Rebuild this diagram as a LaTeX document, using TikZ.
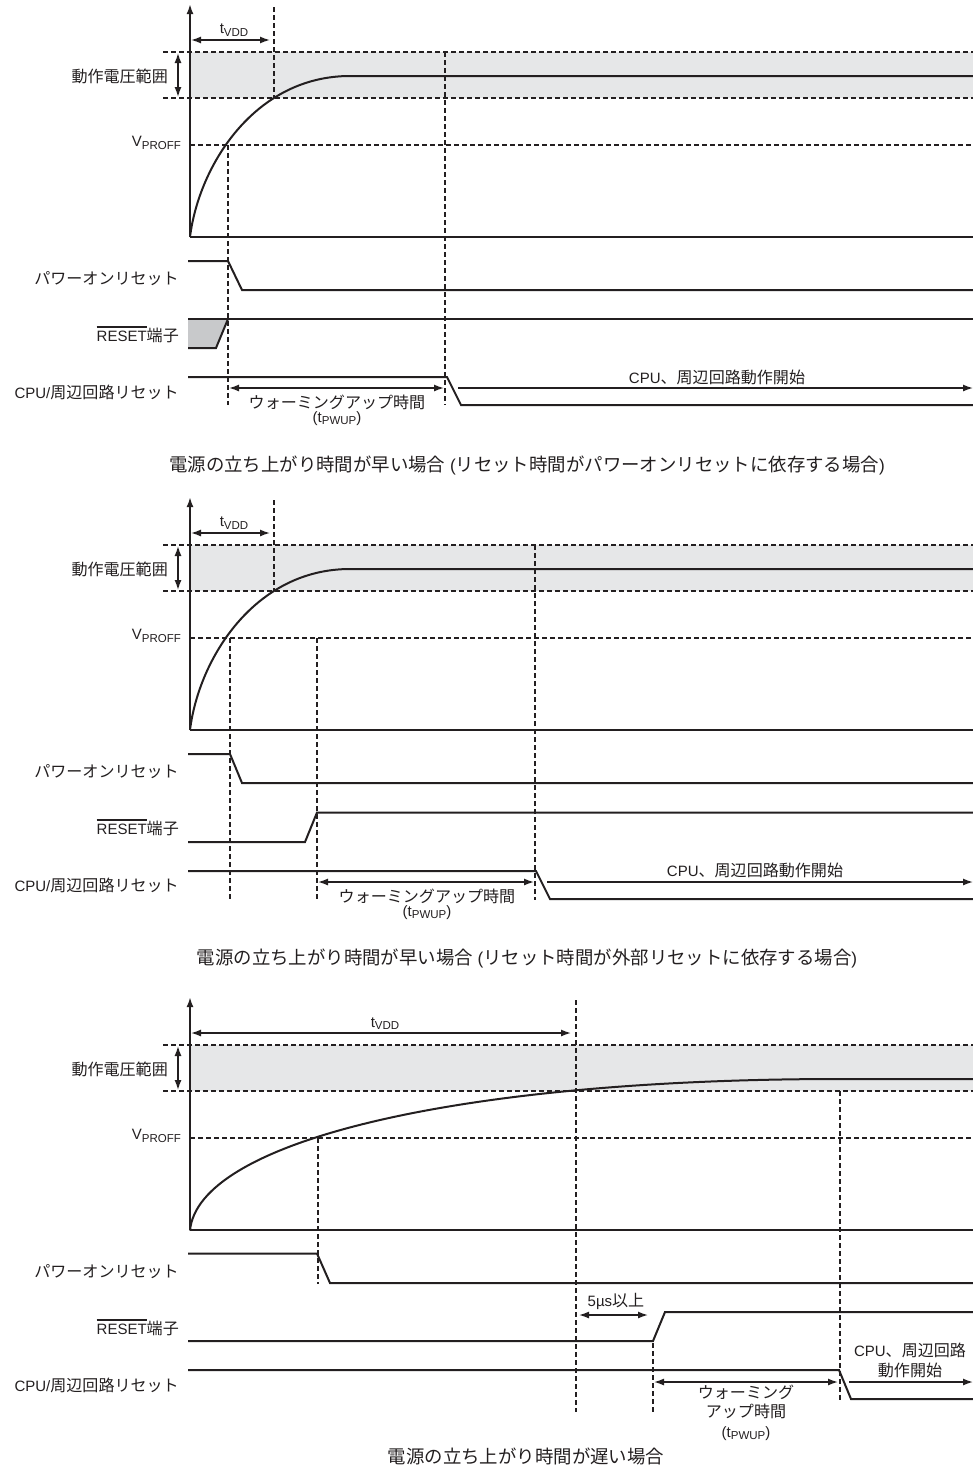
\documentclass[tikz,border=0pt]{standalone}
\usepackage{fontspec}
\setmainfont{Liberation Sans}
\newfontfamily\jp[Scale=1.07]{Noto Sans CJK JP}
\usetikzlibrary{arrows.meta}

\definecolor{ink}{HTML}{231F20}
\definecolor{bandgray}{HTML}{E6E7E8}
\definecolor{pingray}{HTML}{C8C9CB}
\newcommand{\pinbar}[1]{\vbox{\hrule height 1.3pt\kern 3.5pt\hbox{#1}}}
\newcommand{\subtxt}[1]{\raisebox{-2.5pt}{\fontsize{11.5}{11.5}\selectfont #1}}

\begin{document}
\begin{tikzpicture}[x=1pt,y=-1pt,
        >={Latex[length=10pt,width=7pt]},
        sig/.style={draw=ink,line width=2pt},
        guide/.style={draw=ink,line width=1.4pt,dash pattern=on 5pt off 3pt},
        dim/.style={draw=ink,line width=1.4pt},
        lab/.style={text=ink,inner sep=0pt,anchor=base east,font=\fontsize{15}{16}\selectfont},
        txt/.style={text=ink,inner sep=0pt,anchor=base,align=center,font=\fontsize{15}{19.5}\selectfont},
        captext/.style={text=ink,inner sep=0pt,anchor=base,font=\fontsize{17.2}{18}\selectfont}]
    \useasboundingbox (0,0) rectangle (973,1470);

    % fast rise, reset time set by power-on reset
    \begin{scope}
        \fill[bandgray] (190,52) rectangle (973,98);
        \draw[guide] (163,52) -- (973,52);
        \draw[guide] (163,98) -- (973,98);
        \draw[guide] (190,145) -- (973,145);
        \draw[guide] (274,7) -- (274,98);
        \draw[guide] (228,145) -- (228,405);
        \draw[guide] (445,52) -- (445,405);
        \draw[sig,->] (190,237) -- (190,4);
        \draw[sig] (190,237) -- (973,237);
        \draw[sig] (190,237) .. controls (199,165) and (255,76) .. (350,76) -- (973,76);

        \draw[sig] (188,261) -- (228,261) -- (242,290) -- (973,290);
        \fill[pingray] (188,319) -- (228,319) -- (216,348) -- (188,348) -- cycle;
        \draw[sig] (188,319) -- (973,319);
        \draw[sig] (188,348) -- (216,348) -- (228,319);
        \draw[sig] (188,377) -- (447,377) -- (461,405) -- (973,405);

        \draw[dim,<->] (191,40) -- (270,40);
        \draw[dim,<->] (178,53) -- (178,97);
        \draw[dim,<->] (229,388) -- (444,388);
        \draw[dim,->] (458,388) -- (973,388);

        \node[txt] (vdd1) at (234,33.5) {t\subtxt{VDD}};
        \node[lab] (range1) at (168,82) {\jp 動作電圧範囲};
        \node[lab] (vproff1) at (181,146.7) {V\subtxt{PROFF}};
        \node[lab] (por1) at (179,284) {\jp パワーオンリセット};
        \node[lab] (pin1) at (179,341.7) {\pinbar{RESET}{\jp 端子}};
        \node[lab] (cpu1) at (179,398) {CPU/{\jp 周辺回路リセット}};
        \node[txt] (warm1) at (337,422) {{\jp ウォーミングアップ時間}\\[-6pt](t\subtxt{PWUP})};
        \node[txt] (run1) at (717,383.3) {CPU{\jp 、周辺回路動作開始}};
        \node[captext] (cap1) at (527,471) {{\jp 電源の立ち上がり時間が早い場合} ({\jp リセット時間がパワーオンリセットに依存する場合})};
    \end{scope}

    % fast rise, reset time set by external reset
    \begin{scope}[shift={(0,493)}]
        \fill[bandgray] (190,52) rectangle (973,98);
        \draw[guide] (163,52) -- (973,52);
        \draw[guide] (163,98) -- (973,98);
        \draw[guide] (190,145) -- (973,145);
        \draw[guide] (274,7) -- (274,98);
        \draw[guide] (230,145) -- (230,407);
        \draw[guide] (317,145) -- (317,407);
        \draw[guide] (535,52) -- (535,407);
        \draw[sig,->] (190,237) -- (190,4);
        \draw[sig] (190,237) -- (973,237);
        \draw[sig] (190,237) .. controls (199,165) and (255,76) .. (350,76) -- (973,76);

        \draw[sig] (188,261) -- (230,261) -- (242,290) -- (973,290);
        \draw[sig] (188,349) -- (305,349) -- (317,319.5) -- (973,319.5);
        \draw[sig] (188,378) -- (536,378) -- (550,406) -- (973,406);

        \draw[dim,<->] (191,40) -- (270,40);
        \draw[dim,<->] (178,53) -- (178,97);
        \draw[dim,<->] (318,389) -- (534,389);
        \draw[dim,->] (547,389) -- (973,389);

        \node[txt] (vdd2) at (234,33.5) {t\subtxt{VDD}};
        \node[lab] (range2) at (168,82) {\jp 動作電圧範囲};
        \node[lab] (vproff2) at (181,146.7) {V\subtxt{PROFF}};
        \node[lab] (por2) at (179,284) {\jp パワーオンリセット};
        \node[lab] (pin2) at (179,341.7) {\pinbar{RESET}{\jp 端子}};
        \node[lab] (cpu2) at (179,398) {CPU/{\jp 周辺回路リセット}};
        \node[txt] (warm2) at (427,423) {{\jp ウォーミングアップ時間}\\[-6pt](t\subtxt{PWUP})};
        \node[txt] (run2) at (755,383.7) {CPU{\jp 、周辺回路動作開始}};
        \node[captext] (cap2) at (527,471) {{\jp 電源の立ち上がり時間が早い場合} ({\jp リセット時間が外部リセットに依存する場合})};
    \end{scope}

    % slow rise
    \begin{scope}[shift={(0,993)}]
        \fill[bandgray] (190,52) rectangle (973,98);
        \draw[guide] (163,52) -- (973,52);
        \draw[guide] (163,98) -- (973,98);
        \draw[guide] (190,145) -- (973,145);
        \draw[guide] (576,7) -- (576,419);
        \draw[guide] (318,145) -- (318,291);
        \draw[guide] (840,98) -- (840,407);
        \draw[guide] (653,350) -- (653,419);
        \draw[sig,->] (190,237) -- (190,4);
        \draw[sig] (190,237) -- (973,237);
        \draw[sig] (190,237.5) .. controls (198,150) and (450,86) .. (840,86) -- (973,86);

        \draw[sig] (188,260.5) -- (317,260.5) -- (330,290) -- (973,290);
        \draw[sig] (188,348) -- (653,348) -- (665,319) -- (973,319);
        \draw[sig] (188,377) -- (839,377) -- (851,406) -- (973,406);

        \draw[dim,<->] (191,40) -- (571,40);
        \draw[dim,<->] (178,53) -- (178,97);
        \draw[dim,<->] (579,322) -- (648,322);
        \draw[dim,<->] (654,389) -- (838,389);
        \draw[dim,->] (849,389) -- (973,389);

        \node[txt] (vdd3) at (385,34) {t\subtxt{VDD}};
        \node[lab] (range3) at (168,82) {\jp 動作電圧範囲};
        \node[lab] (vproff3) at (181,146.7) {V\subtxt{PROFF}};
        \node[lab] (por3) at (179,284) {\jp パワーオンリセット};
        \node[lab] (pin3) at (179,341.7) {\pinbar{RESET}{\jp 端子}};
        \node[lab] (cpu3) at (179,398) {CPU/{\jp 周辺回路リセット}};
        \node[txt] (gap3) at (616,313) {5µs{\jp 以上}};
        \node[txt] (warm3) at (746,444) {{\jp ウォーミング}\\{\jp アップ時間}\\(t\subtxt{PWUP})};
        \node[txt] (run3) at (910,383) {CPU{\jp 、周辺回路}\\{\jp 動作開始}};
        \node[captext] (cap3) at (526,470.5) {\jp 電源の立ち上がり時間が遅い場合};
    \end{scope}
\end{tikzpicture}
\end{document}
